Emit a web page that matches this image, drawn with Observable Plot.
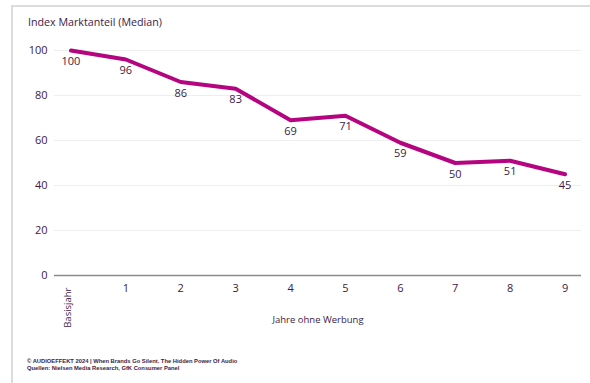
<!DOCTYPE html>
<html>
<head>
<meta charset="utf-8">
<script src="https://cdn.jsdelivr.net/npm/d3@7"></script>
<script src="https://cdn.jsdelivr.net/npm/@observablehq/plot@0.6"></script>
<style>
  html, body { margin: 0; padding: 0; background: #fff; }
  #wrap { position: relative; width: 590px; height: 383px; overflow: hidden; font-family: "Open Sans", sans-serif; color: #3d1a45; }
  #frameTop { position: absolute; left: 11px; top: 5px; width: 579px; height: 2px; background: #dcdcdc; }
  #frameLeft { position: absolute; left: 11px; top: 5px; width: 2px; height: 378px; background: #dcdcdc; }
  #title { position: absolute; left: 28px; top: 15px; font-size: 10.7px; white-space: nowrap; }
  #footer { position: absolute; left: 27px; top: 358px; font-family: "Liberation Sans", Arial, sans-serif; font-weight: bold; font-size: 5.8px; line-height: 7px; white-space: nowrap; }
  #chart { position: absolute; left: 0; top: 0; }
</style>
</head>
<body>
<div id="wrap">
  <div id="frameTop"></div>
  <div id="frameLeft"></div>
  <div id="chart"></div>
  <div id="title">Index Marktanteil (Median)</div>
  <div id="footer">© AUDIOEFFEKT 2024 | When Brands Go Silent. The Hidden Power Of Audio<br>Quellen: Nielsen Media Research, GfK Consumer Panel</div>
</div>
<script>
const categories = ["Basisjahr", "1", "2", "3", "4", "5", "6", "7", "8", "9"];
const values = [100, 96, 86, 83, 69, 71, 59, 50, 51, 45];
const yTicks = [0, 20, 40, 60, 80, 100];
const xAxisLabel = "Jahre ohne Werbung";

const data = categories.map((c, i) => ({cat: c, val: values[i]}));
const textColor = "#3d1a45";

const chart = Plot.plot({
  width: 590,
  height: 383,
  marginTop: 50,
  marginBottom: 108,
  marginLeft: 54,
  marginRight: 9,
  style: {fontFamily: "'Open Sans', sans-serif", fontSize: "11px", color: textColor, background: "transparent"},
  x: {type: "point", domain: categories, padding: 0.3, round: false, axis: null},
  y: {domain: [0, 100], axis: null},
  marks: [
    Plot.gridY(yTicks.filter(d => d > 0), {stroke: "#eeeeee", strokeOpacity: 1}),
    Plot.ruleY([0], {stroke: "#8a8a8a", strokeWidth: 1.5}),
    Plot.axisY(yTicks, {tickSize: 0, tickPadding: 7, label: null, fill: textColor}),
    Plot.line(data, {x: "cat", y: "val", stroke: "#b5047f", strokeWidth: 4}),
    Plot.text(data, {x: "cat", y: "val", text: d => String(d.val), dy: 11, fill: textColor}),
    Plot.text(categories.slice(1), {x: d => d, text: d => d, frameAnchor: "bottom", dy: 16, fill: textColor}),
    Plot.text(categories.slice(0, 1), {x: d => d, text: d => d, frameAnchor: "bottom", dy: 12, rotate: -90, textAnchor: "end", fontSize: 9.5, fill: textColor}),
    Plot.text([xAxisLabel], {text: d => d, frameAnchor: "bottom", dy: 47, fontSize: 9.5, fill: textColor})
  ]
});
document.getElementById("chart").appendChild(chart);
</script>
</body>
</html>
